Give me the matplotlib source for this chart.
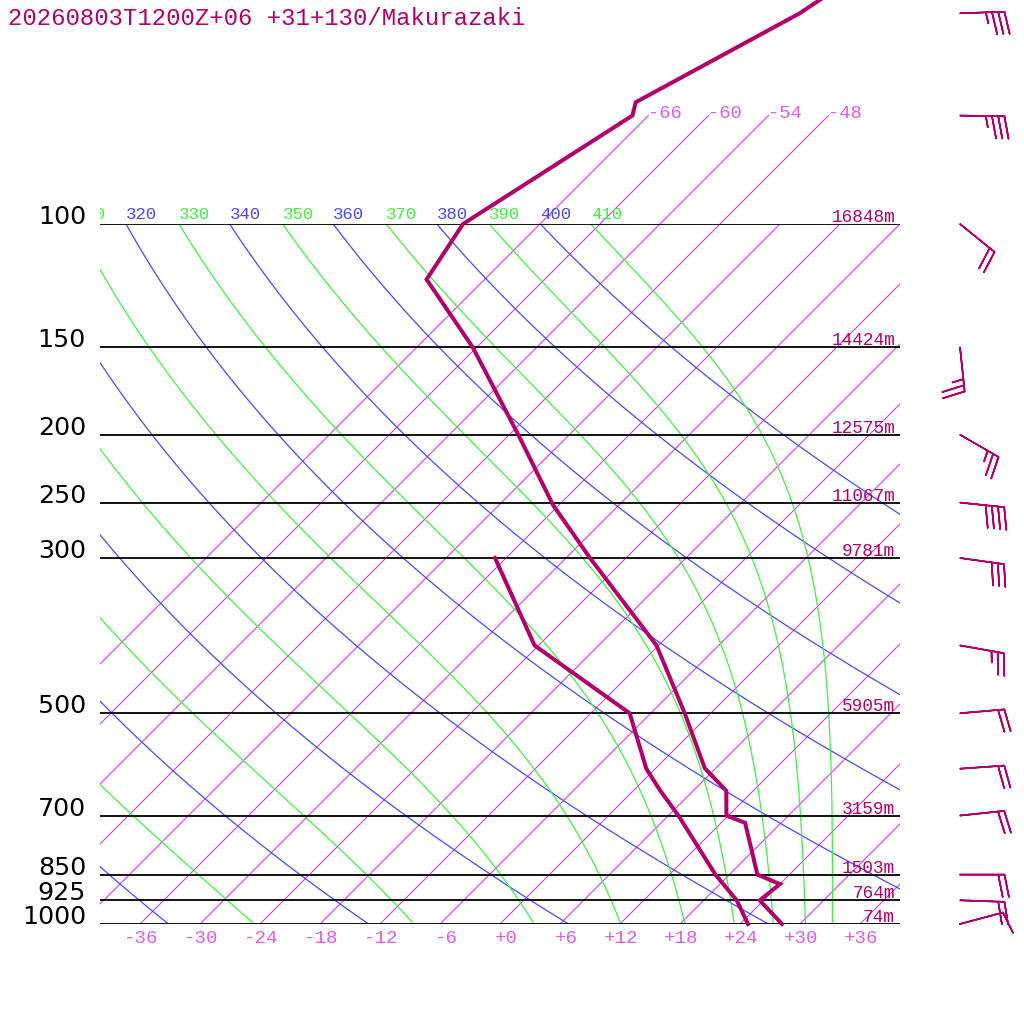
import numpy as np
import matplotlib
matplotlib.use("Agg")
import matplotlib.pyplot as plt
import matplotlib.transforms as mtransforms

# Temperature profile (hPa, degC)
t_pres = [1000, 925, 877, 850, 717, 700, 645, 599, 500, 400, 300, 252, 200, 150, 120, 100, 70, 67, 50, 40]
t_temp = [28.2, 23.6, 24.0, 20.8, 14.4, 11.8, 9.3, 4.9, -2.6, -12.2, -27.6, -36.6, -47.1, -60.4, -71.8, -73.7,
          -67.6, -68.6, -61.1, -57.7]

# Dewpoint profile
d_pres = [1000, 925, 850, 700, 645, 600, 500, 400, 300]
d_temp = [24.8, 21.3, 16.6, 7.0, 2.7, -0.9, -8.1, -24.4, -37.1]

# Standard levels and geopotential heights
lev_pres = [1000, 925, 850, 700, 500, 300, 250, 200, 150, 100]
lev_hgt = [74, 764, 1503, 3159, 5905, 9781, 11067, 12575, 14424, 16848]

# Winds (direction deg, speed kt)
w_pres = [1000, 925, 850, 700, 600, 500, 400, 300, 250, 200, 150, 100, 70, 50]
w_dir = [75, 92, 90, 84, 86, 85, 100, 98, 96, 120, 174, 129, 91, 88]
w_spd = [10, 20, 20, 20, 20, 20, 25, 30, 40, 25, 25, 20, 35, 35]

# Background line sets
isotherms = np.arange(-66, 37, 6)
upper_isotherms = [-66, -60, -54, -48]
dry_thetas = np.arange(240, 401, 20)
moist_thetas = np.arange(250, 411, 20)

title = "20260803T1200Z+06 +31+130/Makurazaki"

crimson = '#b0006a'
iso_col = '#cc44dd'
iso_lab = '#dd5fdd'
blue = '#4848ff'
green = '#44ee44'
mono = 'Liberation Mono'

fig = plt.figure(figsize=(10.24, 10.24), dpi=100)
fig.patch.set_facecolor('white')
ax = fig.add_axes([100 / 1024, 100 / 1024, 800 / 1024, 700 / 1024])
ax.set_yscale('log')
ax.set_xlim(-40, 40)
ax.set_ylim(1000, 100)
ax.set_axis_off()

# skewed transform: 45 degree isotherms in pixels
skew = (ax.transScale + ax.transLimits +
        mtransforms.Affine2D().skew(np.arctan(700 / 800), 0) + ax.transAxes)

pgrid = np.geomspace(1000, 100, 200)


def theta_e_sat(tk, p):
    tc = tk - 273.15
    es = 6.112 * np.exp(17.67 * tc / (tc + 243.5))
    r = 622.0 * es / (p - es)
    th = tk * (1000.0 / p) ** (0.2854 * (1 - 0.28e-3 * r)) * \
        np.exp((3.376 / tk - 0.00254) * r * (1 + 0.81e-3 * r))
    return th, es


def moist_line(the):
    out = []
    tk = np.linspace(150, 340, 3000)
    for p in pgrid:
        th, es = theta_e_sat(tk, p)
        ok = es < 0.2 * p
        out.append(np.interp(the, th[ok], tk[ok]) - 273.15)
    return np.array(out)


# clip box for labels along the top (display pixels)
clipbox = mtransforms.Bbox([[100, 0], [900, 1024]])
top_lab_tr = mtransforms.offset_copy(skew, fig=fig, x=0, y=5, units='dots')


def top_label(t, th, col):
    # skip labels that would sit fully left of the plot
    if skew.transform((t, 100))[0] + 32 < 100:
        return
    txt = ax.text(t, 100, '%d' % th, color=col, fontsize=12.5, family=mono, ha='left', va='baseline',
                  transform=top_lab_tr)
    txt.set_clip_box(clipbox)
    txt.set_clip_on(True)


# isotherms
for t in isotherms:
    ax.plot([t, t], [1000, 100], color=iso_col, lw=0.8, transform=skew)
for t in upper_isotherms:
    ax.plot([t, t], [100, 70], color=iso_col, lw=0.8, transform=skew, clip_on=False)
    ax.text(t, 70, '%d' % t, color=iso_lab, fontsize=13.5, family=mono, ha='left', va='baseline',
            transform=mtransforms.offset_copy(skew, fig=fig, x=0, y=-2, units='dots'))

# dry adiabats
for th in dry_thetas:
    tt = th * (pgrid / 1000.0) ** 0.2857 - 273.15
    ax.plot(tt, pgrid, color=blue, lw=0.9, transform=skew)
    top_label(tt[-1], th, blue)

# moist adiabats
for th in moist_thetas:
    tt = moist_line(th)
    ax.plot(tt, pgrid, color=green, lw=0.9, transform=skew)
    top_label(tt[-1], th, green)

# isobars
for p in lev_pres:
    ax.plot([-40, 40], [p, p], color='black', lw=1.3)

# profiles
ax.plot(d_temp, d_pres, color=crimson, lw=2.9, transform=skew, clip_on=False, solid_joinstyle='miter')
ax.plot(t_temp, t_pres, color=crimson, lw=2.9, transform=skew, clip_on=False, solid_joinstyle='miter')

# labels
left_tr = mtransforms.blended_transform_factory(fig.transFigure, ax.transData)
for p, h in zip(lev_pres, lev_hgt):
    ax.text(86 / 1024, p, '%d' % p, transform=left_tr, ha='right', va='baseline',
            fontsize=18.3, family='DejaVu Sans', color='black')
    ax.text(895 / 1024, p, '%dm' % h, ha='right', va='baseline', fontsize=12.8, family=mono, color=crimson,
            transform=mtransforms.offset_copy(left_tr, fig=fig, x=0, y=2, units='dots'))

bot_tr = mtransforms.blended_transform_factory(ax.transData, fig.transFigure)
for t in range(-36, 37, 6):
    lab = '+%d' % t if t >= 0 else '%d' % t
    ax.text(t + 1.8, 1 - 943 / 1024, lab, transform=bot_tr, ha='right', va='baseline',
            fontsize=13.8, family=mono, color=iso_lab)

fig.text(8 / 1024, 1 - 25 / 1024, title, ha='left', va='baseline', fontsize=17.2, family=mono, color=crimson)

# wind barbs
bax = fig.add_axes([940 / 1024, 100 / 1024, 40 / 1024, 700 / 1024])
bax.set_yscale('log')
bax.set_ylim(1000, 100)
bax.set_xlim(0, 1)
bax.set_axis_off()
wd = np.radians(w_dir)
u = -np.array(w_spd) * np.sin(wd)
v = -np.array(w_spd) * np.cos(wd)
bax.barbs(np.full(len(w_pres), 0.5), w_pres, u, v, length=8, color=crimson, linewidth=1.2,
          clip_on=False, sizes=dict(height=0.5, spacing=0.14, width=0.2))

fig.savefig('out.png', dpi=100, facecolor='white')
